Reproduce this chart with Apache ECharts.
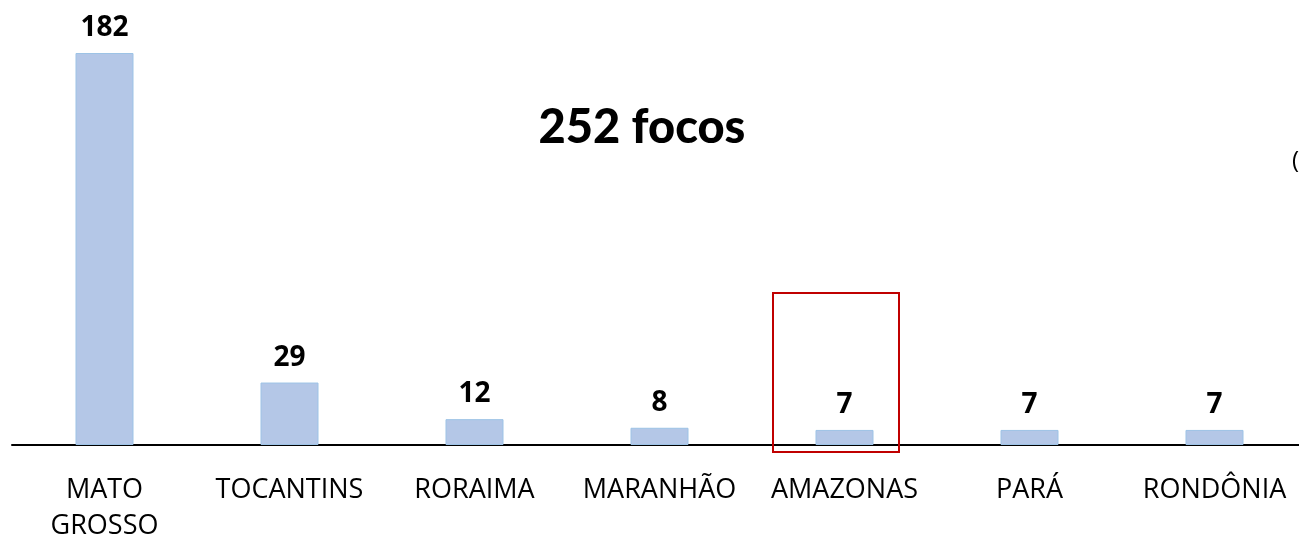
<!DOCTYPE html>
<html>
<head>
<meta charset="utf-8">
<script src="https://cdn.jsdelivr.net/npm/echarts@6/dist/echarts.min.js"></script>
<style>
  html, body { margin: 0; padding: 0; background: #fff; }
  #chart { width: 1299px; height: 539px; }
</style>
</head>
<body>
<div id="chart"></div>
<script>
// focos por estado
const states = ["MATO\nGROSSO", "TOCANTINS", "RORAIMA", "MARANHÃO", "AMAZONAS", "PARÁ", "RONDÔNIA"];
const focos = [182, 29, 12, 8, 7, 7, 7];
const titleText = "252 focos";

const chart = echarts.init(document.getElementById("chart"));

const option = {
  animation: false,
  title: {
    text: titleText,
    left: 637,
    top: 99,
    textAlign: "center",
    textStyle: {
      fontFamily: "Lato",
      fontWeight: 900,
      fontSize: 47,
      color: "#000",
    },
  },
  grid: {
    left: 12,
    right: -8,
    top: 53,
    bottom: 94,
    outerBoundsMode: "none",
    containLabel: false,
  },
  xAxis: {
    type: "category",
    data: states,
    axisLine: { lineStyle: { color: "#000", width: 2 } },
    axisTick: { show: false },
    axisLabel: {
      color: "#000",
      fontFamily: "Open Sans",
      fontSize: 27,
      lineHeight: 36,
      margin: 27,
      interval: 0,
    },
  },
  yAxis: {
    type: "value",
    min: 0,
    max: 182,
    show: false,
    splitLine: { show: false },
  },
  series: [
    {
      type: "bar",
      data: focos,
      barWidth: 58,
      itemStyle: {
        color: "#b4c7e7",
        borderColor: "#9dc3e6",
        borderWidth: 1,
      },
      label: {
        show: true,
        position: "top",
        distance: 11,
        color: "#000",
        fontFamily: "Open Sans",
        fontWeight: "bold",
        fontSize: 28,
      },
    },
  ],
  graphic: [
    {
      type: "rect",
      shape: { x: 773, y: 293, width: 126, height: 159 },
      style: { fill: "none", stroke: "#c00000", lineWidth: 2 },
      z: 10,
    },
    {
      type: "text",
      left: 1292,
      top: 149,
      style: {
        text: "(",
        fontFamily: "Open Sans",
        fontSize: 24,
        fill: "#000",
      },
    },
  ],
};

chart.setOption(option);
</script>
</body>
</html>
